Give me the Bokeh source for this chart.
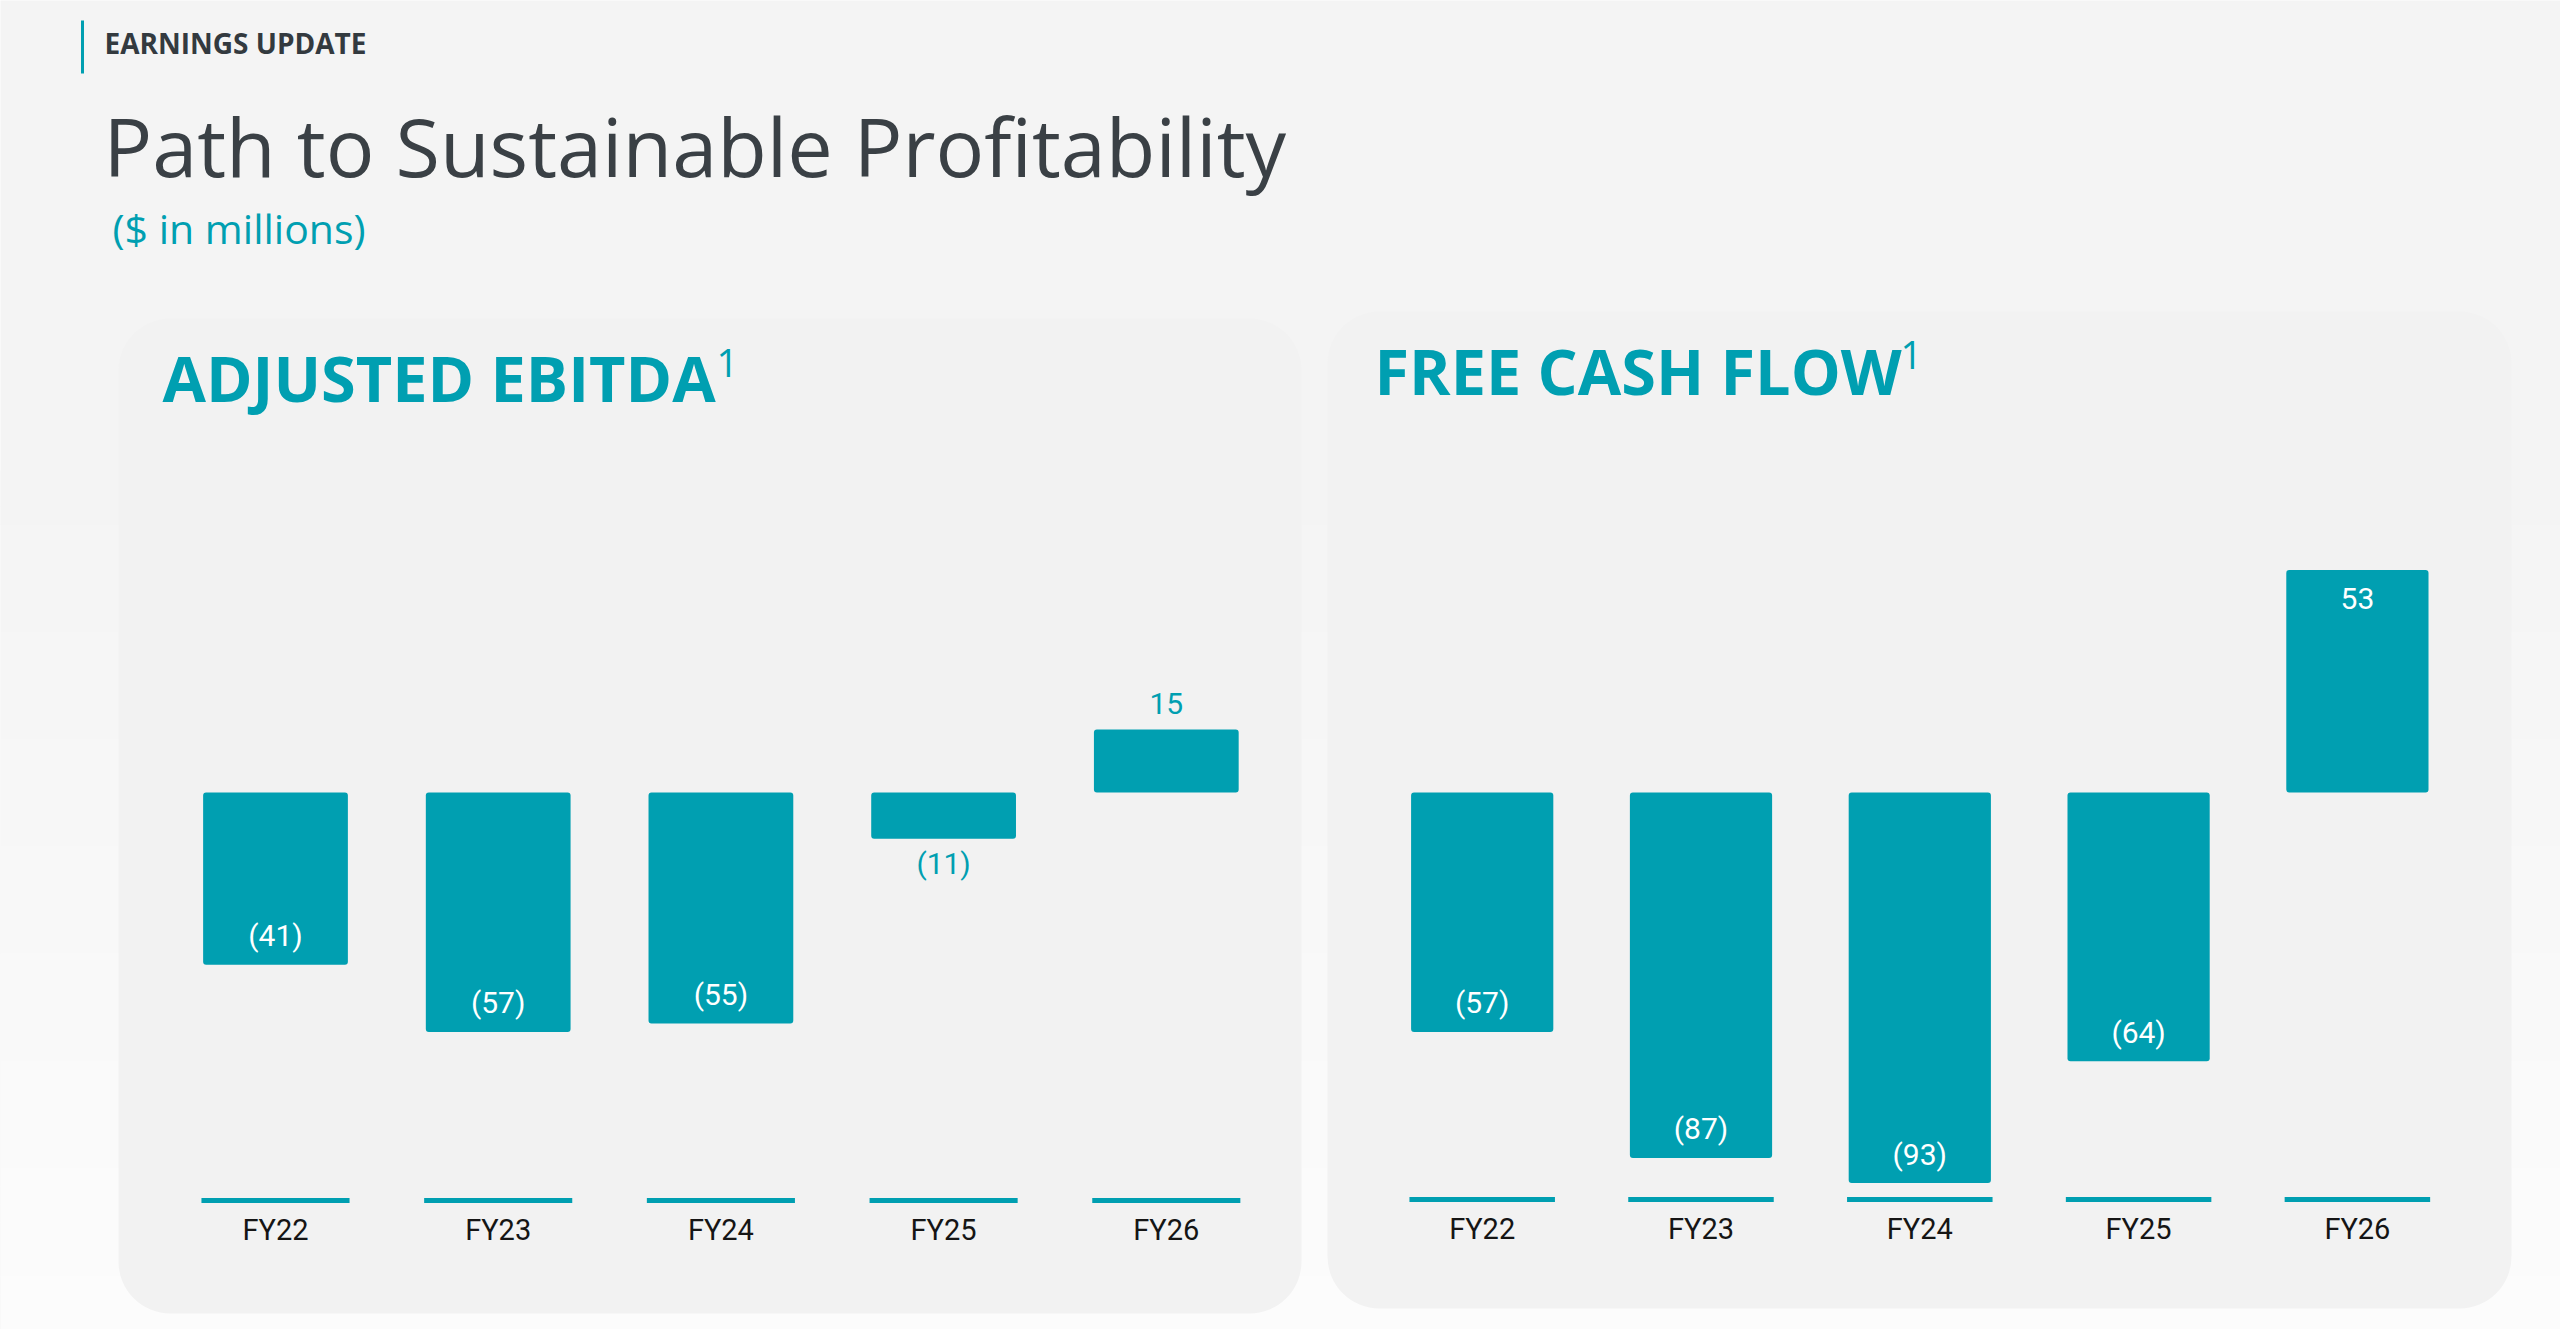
from bokeh.plotting import figure
from bokeh.models import Range1d, BoxAnnotation, ColumnDataSource
from bokeh.core.properties import value
from bokeh.embed import file_html
from bokeh.resources import INLINE

# ---- data ($ in millions) ----
categories = ["FY22", "FY23", "FY24", "FY25", "FY26"]
adjusted_ebitda = [-41, -57, -55, -11, 15]
free_cash_flow = [-57, -87, -93, -64, 53]

TEAL = "#009FB1"
DARK = "#3A4045"
W, H = 2560, 1329

p = figure(width=W, height=H, x_range=Range1d(0, W), y_range=Range1d(H, 0),
           output_backend="svg", toolbar_location=None, min_border=0,
           outline_line_color=None, background_fill_color="#F4F4F4",
           border_fill_color="#F4F4F4")
p.axis.visible = False
p.grid.visible = False

# soft page background, lightening toward the bottom
bands = 48
y0 = 470
tops, bottoms, cols = [], [], []
for i in range(bands):
    a = y0 + (H - y0) * i / bands
    b = y0 + (H - y0) * (i + 1) / bands
    t = (i + 0.5) / bands
    c = int(round(244 + (252 - 244) * t))
    tops.append(a)
    bottoms.append(b + 1)
    cols.append("#%02x%02x%02x" % (c, c, c))
bg = p.quad(left=0, right=W, top=tops, bottom=bottoms, fill_color=cols, line_color=None)
bg.level = "image"

# header
p.segment(x0=[82], y0=[20], x1=[82], y1=[73], line_color=TEAL, line_width=3)
p.text(x=[104], y=[42], text=["EARNINGS UPDATE"], text_font=value("Open Sans"),
       text_font_style="bold", text_font_size="28px", text_color="#333A3F",
       text_baseline="middle")
p.text(x=[103], y=[145], text=["Path to Sustainable Profitability"],
       text_font=value("Open Sans"), text_font_size="81px", text_color=DARK,
       text_baseline="middle")
p.text(x=[112], y=[227], text=["($ in millions)"], text_font=value("Open Sans"),
       text_font_size="41px", text_color=TEAL, text_baseline="middle")

# value scale shared by both panels: zero line and pixels per $1M
ZERO_Y = 792
PX_PER_UNIT = 4.2
p.extra_y_ranges = {"val": Range1d((ZERO_Y - H) / PX_PER_UNIT, ZERO_Y / PX_PER_UNIT)}

panels = [
    dict(name="ebitda", title="ADJUSTED EBITDA", values=adjusted_ebitda,
         box=(118, 1301, 318, 1313), title_xy=(162, 377), sup_xy=(716, 362),
         c0=275.0, step=222.7, label_y=1229, base_y=1200),
    dict(name="fcf", title="FREE CASH FLOW", values=free_cash_flow,
         box=(1327, 2511, 311, 1308), title_xy=(1374, 370), sup_xy=(1900, 354),
         c0=1481.7, step=218.8, label_y=1228, base_y=1199),
]

x_ranges = {}
for pn in panels:
    l, r, t, b = pn["box"]
    p.add_layout(BoxAnnotation(left=l, right=r, top=t, bottom=b, fill_color="#F2F2F2",
                               fill_alpha=1.0, line_color=None, border_radius=52,
                               level="underlay"))
    # category index -> page x
    x_ranges[pn["name"]] = Range1d(-pn["c0"] / pn["step"], (W - pn["c0"]) / pn["step"])
p.extra_x_ranges = x_ranges

for pn in panels:
    xr = pn["name"]
    tx, ty = pn["title_xy"]
    p.text(x=[tx], y=[ty], text=[pn["title"]], text_font=value("Open Sans"),
           text_font_style="bold", text_font_size="63px", text_color=TEAL,
           text_baseline="middle")
    sx, sy = pn["sup_xy"]
    p.text(x=[sx], y=[sy], text=["1"], text_font=value("Open Sans"),
           text_font_size="38px", text_color=TEAL, text_baseline="middle")

    vals = pn["values"]
    idx = list(range(len(categories)))
    src = ColumnDataSource(dict(x=idx, v=vals, cat=categories))
    p.vbar(x="x", top="v", bottom=0, width=0.65, source=src, x_range_name=xr,
           y_range_name="val", fill_color=TEAL, line_color=None, border_radius=3)

    # category baseline ticks and labels
    p.rect(x=idx, y=pn["base_y"], width=0.665, height=5, x_range_name=xr,
           fill_color=TEAL, line_color=None)
    p.text(x=idx, y=pn["label_y"], text=categories, x_range_name=xr,
           text_font=value("Roboto"), text_font_size="29px", text_color="#151515",
           text_align="center", text_baseline="middle")

    # value labels: inside the bar end when it is tall enough, otherwise outside
    texts, offs, colors = [], [], []
    for v in vals:
        texts.append("(%d)" % abs(v) if v < 0 else "%d" % v)
        inside = abs(v) * PX_PER_UNIT > 80
        if v < 0:
            offs.append(-29 if inside else 25)
        else:
            offs.append(29 if inside else -26)
        colors.append("white" if inside else TEAL)
    lsrc = ColumnDataSource(dict(x=idx, v=vals, t=texts, off=offs, c=colors))
    p.text(x="x", y="v", text="t", y_offset="off", text_color="c", source=lsrc,
           x_range_name=xr, y_range_name="val", text_font=value("Roboto"),
           text_font_size="30px", text_align="center", text_baseline="middle")

open("out.html", "w").write(file_html(p, INLINE))
